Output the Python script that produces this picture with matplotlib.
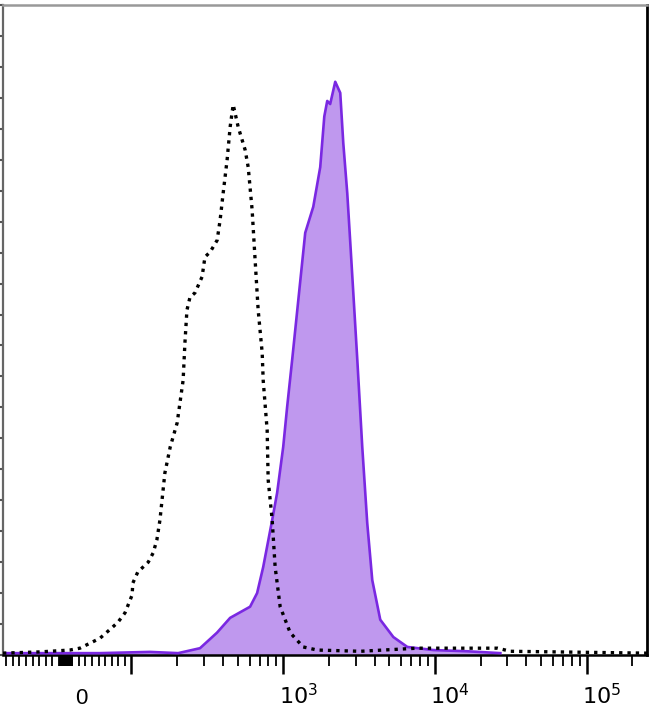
import numpy as np
import matplotlib
matplotlib.use("Agg")
import matplotlib.pyplot as plt

# ---------------- data (fluorescence intensity, % of max) ----------------
stained_x = [-95, 52, 132, 203, 283, 366, 447, 605, 673, 738, 846, 912, 1000, 1062,
             1146, 1397, 1578, 1754, 1866, 1951, 2040, 2203, 2377, 2489, 2644, 2768,
             2898, 3079, 3320, 3581, 3864, 4363, 5321, 6581, 9772, 16400, 27000]
stained_y = [0.3, 0.3, 0.5, 0.3, 1.1, 3.6, 6.0, 7.8, 10.0, 14.2, 21.8, 26.2, 33.6, 40.1,
             47.7, 68.2, 72.4, 78.8, 87.0, 89.5, 89.0, 92.6, 90.8, 82.7, 74.6, 66.6,
             58.5, 47.7, 33.6, 21.3, 12.1, 5.7, 2.9, 1.3, 0.8, 0.6, 0.3]

control_x = [-95, -39, 6.5, 21.7, 36.9, 52.1, 70.3, 79.5, 90.1, 101, 102, 110, 129, 139,
             147, 154, 166, 180, 200, 219, 225, 232, 243, 262, 292, 305, 330, 367, 384,
             402, 427, 447, 468, 505, 561, 588, 624, 653, 684, 727, 738, 784, 796, 846,
             885, 955, 1112, 1355, 1676, 3222, 7656, 25880, 31500, 250000]
control_y = [0.3, 0.5, 0.8, 1.1, 1.9, 2.7, 4.4, 5.3, 6.8, 9.7, 11.6, 13.4, 15.0, 16.5,
             18.6, 21.8, 29.4, 33.6, 37.5, 44.4, 50.4, 55.7, 57.8, 58.5, 61.1, 64.3, 65.1,
             67.0, 70.3, 74.6, 80.0, 85.3, 88.9, 85.3, 81.6, 78.8, 71.9, 63.8, 55.7, 48.8,
             44.4, 36.3, 28.3, 21.8, 14.2, 7.8, 3.6, 1.3, 0.8, 0.6, 1.1, 1.1, 0.6, 0.3]

major_ticks = [1e2, 1e3, 1e4, 1e5]
label_values = [0, 1e3, 1e4, 1e5]
label_texts = ["0", "$10^3$", "$10^4$", "$10^5$"]

# ---------------- biexponential-like scale ----------------
LN10 = np.log(10.0)
T = 100.0


def fwd(x):
    x = np.asarray(x, dtype=float)
    with np.errstate(divide="ignore", invalid="ignore"):
        lg = np.log10(np.maximum(x, T))
    lin = 2.0 + (x - T) / (T * LN10)
    return np.where(x >= T, lg, lin)


def inv(d):
    d = np.asarray(d, dtype=float)
    with np.errstate(over="ignore"):
        lg = np.power(10.0, np.maximum(d, 2.0))
    lin = T + (d - 2.0) * T * LN10
    return np.where(d >= 2.0, lg, lin)


minor_ticks = ([-s for s in range(10, 100, 10)] + [-s for s in range(1, 10)] + [0] +
               list(range(1, 10)) + list(range(10, 100, 10)) +
               [m * 10 ** e for e in (2, 3, 4) for m in range(2, 10)] + [2e5])

fig = plt.figure(figsize=(6.5, 7.12), dpi=100)
ax = fig.add_axes([3 / 650, 57 / 712, 644 / 650, 650 / 712])
ax.set_xscale("function", functions=(fwd, inv))
ax.set_xlim(-95, 250000)
ax.set_ylim(0, 105)

fill_c = "#BF98EE"
line_c = "#7A28E2"
ax.fill_between(stained_x, stained_y, 0, color=fill_c, lw=0, zorder=2)
ax.plot(stained_x, stained_y, color=line_c, lw=1.9, zorder=3, solid_joinstyle="round")
ax.plot(control_x, control_y, color="black", lw=2.4, linestyle=(0, (1, 1.5)), zorder=4)

# ticks
ax.set_xticks(major_ticks)
ax.set_xticks(minor_ticks, minor=True)
ax.set_xticklabels([])
ax.tick_params(axis="x", which="major", direction="out", length=14, width=1.8, color="black")
ax.tick_params(axis="x", which="minor", direction="out", length=8, width=1.3, color="black")
ax.set_yticks(np.arange(0, 106, 5))
ax.set_yticklabels([])
ax.tick_params(axis="y", which="major", direction="out", length=3, width=1.5, color="#555555")

# spines
ax.spines["left"].set_color("#666666")
ax.spines["left"].set_linewidth(1.6)
ax.spines["top"].set_color("#999999")
ax.spines["top"].set_linewidth(1.8)
ax.spines["right"].set_color("black")
ax.spines["right"].set_linewidth(2.0)
ax.spines["bottom"].set_color("black")
ax.spines["bottom"].set_linewidth(1.8)

# tick labels (placed by hand, as in the reference)
for v, t in zip(label_values, label_texts):
    ax.annotate(t, xy=(v, 0), xycoords=("data", "axes fraction"),
                xytext=(11, -35.5), textcoords="offset points",
                ha="center", va="baseline", fontsize=16,
                family=["Liberation Sans", "DejaVu Sans"], color="black",
                annotation_clip=False)

fig.savefig("out.png", dpi=100)
